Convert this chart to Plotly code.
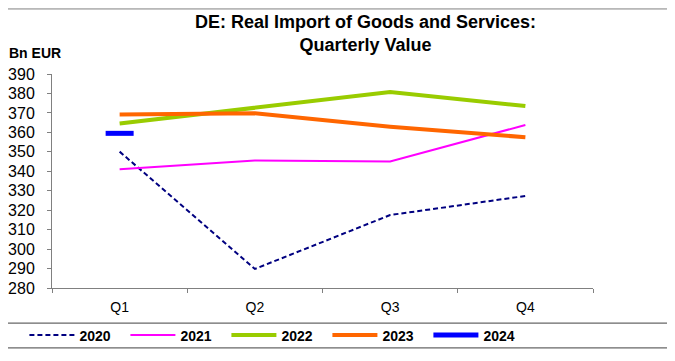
import plotly.graph_objects as go

# Daten (Bn EUR)
quarters = ["Q1", "Q2", "Q3", "Q4"]
v2020 = [350.1, 289.8, 317.5, 327.3]
v2021 = [341.0, 345.6, 345.0, 363.8]
v2022 = [364.5, 372.5, 380.8, 373.5]
v2023 = [369.2, 369.8, 362.9, 357.5]
v2024 = [359.5]

FONT = "Arial, Liberation Sans, sans-serif"

fig = go.Figure()

fig.add_trace(go.Scatter(
    x=quarters, y=v2020, mode='lines', name='2020',
    line=dict(color='#000080', width=2, dash='5px,3px'),
))
fig.add_trace(go.Scatter(
    x=quarters, y=v2021, mode='lines', name='2021',
    line=dict(color='#FF00FF', width=2),
))
fig.add_trace(go.Scatter(
    x=quarters, y=v2022, mode='lines', name='2022',
    line=dict(color='#99CC00', width=4),
))
fig.add_trace(go.Scatter(
    x=quarters, y=v2023, mode='lines', name='2023',
    line=dict(color='#FF6600', width=4),
))
# 2024: nur ein Punkt -> kurzer Strich als Marker, Legende über Linien-Trace
fig.add_trace(go.Scatter(
    x=quarters[:1], y=v2024, mode='markers', name='2024',
    marker=dict(symbol='line-ew', size=20,
                line=dict(color='#0000FF', width=5)),
    showlegend=False, legendgroup='2024',
))
fig.add_trace(go.Scatter(
    x=quarters[:1], y=[None], mode='lines', name='2024',
    line=dict(color='#0000FF', width=5),
    legendgroup='2024',
))

# Rahmen der Legende und obere Linie
fig.add_shape(type='rect', xref='paper', yref='paper',
              x0=-0.083, x1=1.25, y0=-0.28, y1=-0.164,
              line=dict(color='#404040', width=1))
fig.add_shape(type='line', xref='paper', yref='paper',
              x0=-0.2, x1=1.25, y0=1.304, y1=1.304,
              line=dict(color='#808080', width=1))

fig.add_annotation(
    text="<b>DE: Real Import of Goods and Services:<br>Quarterly Value</b>",
    xref='paper', yref='paper', x=0.58, y=1.3, xanchor='center', yanchor='top',
    showarrow=False, font=dict(family=FONT, size=18, color='black'),
)
fig.add_annotation(
    text="<b>Bn EUR</b>", xref='paper', yref='paper', x=-0.083, y=1.10,
    xanchor='left', yanchor='middle', showarrow=False,
    font=dict(family=FONT, size=14, color='black'),
)

fig.update_layout(
    width=675, height=361,
    paper_bgcolor='white', plot_bgcolor='white',
    # Seite hat 8px Rand -> Ränder ausgleichen
    margin=dict(l=44, r=90, t=66, b=81, autoexpand=False),
    font=dict(family=FONT, color='black'),
    showlegend=True,
    legend=dict(
        orientation='h', x=-0.051, y=-0.222, xanchor='left', yanchor='middle',
        font=dict(family=FONT, size=14, color='black', weight='bold'),
        itemwidth=45, entrywidth=41, entrywidthmode='pixels',
        bgcolor='rgba(0,0,0,0)', borderwidth=0,
    ),
)

fig.update_xaxes(
    type='category', range=[-0.5, 3.5], tickson='boundaries',
    ticks='outside', ticklen=4, tickcolor='#808080',
    showline=True, linecolor='#808080', linewidth=1, showgrid=False,
    ticklabelstandoff=6,
    tickfont=dict(family=FONT, size=14, color='black'),
)
fig.update_yaxes(
    range=[280, 390], dtick=10, ticks='outside', ticklen=4,
    tickcolor='#808080', showline=True, linecolor='#808080', linewidth=1,
    showgrid=False, zeroline=False, ticklabelstandoff=9,
    tickfont=dict(family=FONT, size=16, color='black'),
)

fig.write_html("out.html")
